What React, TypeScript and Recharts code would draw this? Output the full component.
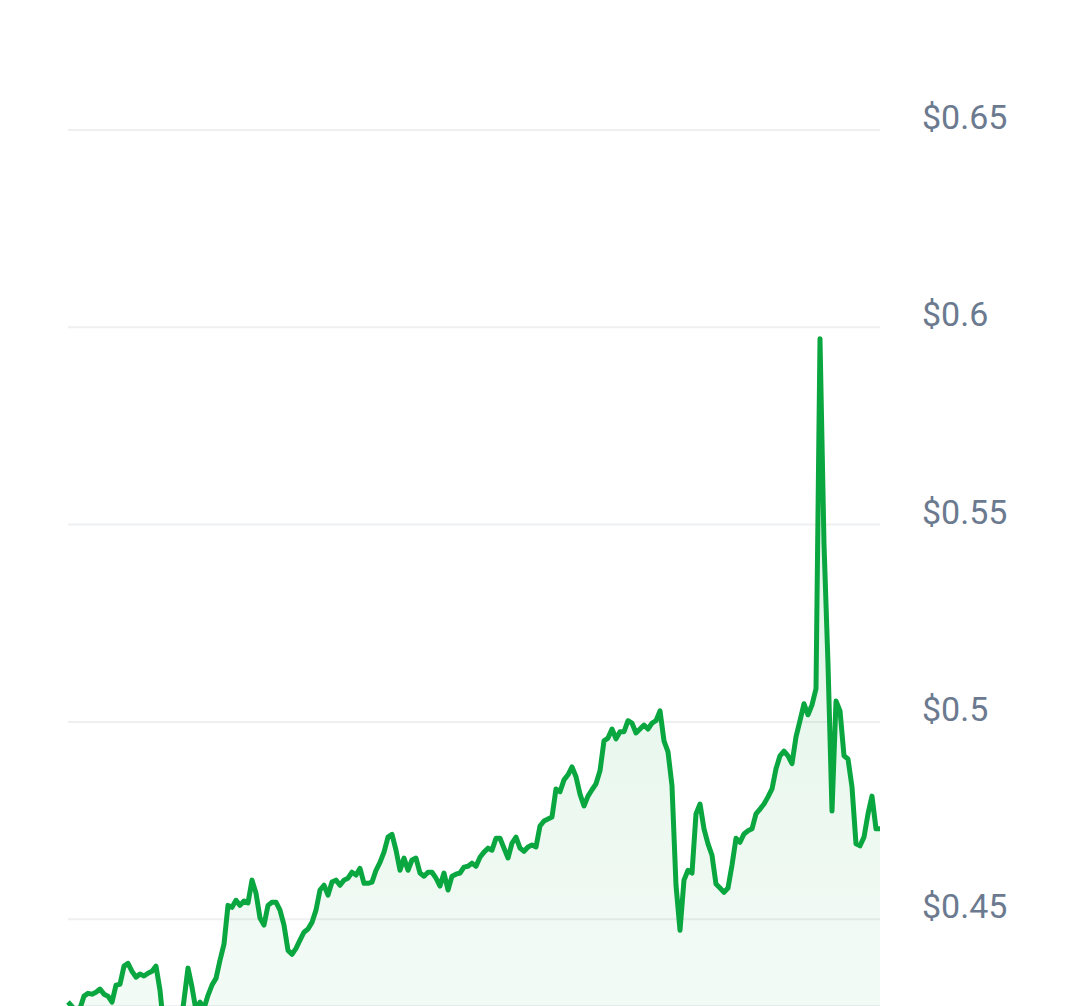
import { Area, AreaChart, CartesianGrid, XAxis, YAxis } from "recharts";

// price readings, evenly spaced over the period shown
const prices = [
  0.429, 0.4279, 0.4264, 0.4274, 0.4305, 0.4312, 0.431, 0.4315, 0.4323, 0.431,
  0.4305, 0.429, 0.4333, 0.4335, 0.4381, 0.4388, 0.4368, 0.4353, 0.4361, 0.4356,
  0.4363, 0.4368, 0.4381, 0.432, 0.4219, 0.4181, 0.4173, 0.4181, 0.4219, 0.4295,
  0.4376, 0.4328, 0.4269, 0.429, 0.4274, 0.4307, 0.4333, 0.435, 0.4396, 0.4437,
  0.4535, 0.453, 0.4548, 0.4535, 0.4546, 0.4541, 0.4599, 0.4566, 0.4503, 0.4485,
  0.4535, 0.4543, 0.4543, 0.4523, 0.4485, 0.4421, 0.4411, 0.4426, 0.4447, 0.4467,
  0.4475, 0.4492, 0.4523, 0.4574, 0.4586, 0.4561, 0.4594, 0.4599, 0.4586, 0.4599,
  0.4604, 0.4619, 0.4612, 0.4629, 0.4591, 0.4591, 0.4594, 0.4624, 0.4644, 0.467,
  0.4708, 0.4715, 0.4675, 0.4624, 0.4655, 0.4624, 0.465, 0.4655, 0.4617, 0.4609,
  0.4619, 0.4619, 0.4604, 0.4584, 0.4617, 0.4574, 0.4609, 0.4614, 0.4617, 0.4632,
  0.4634, 0.4642, 0.4634, 0.4657, 0.467, 0.468, 0.4675, 0.4705, 0.4705, 0.468,
  0.4655, 0.4693, 0.4708, 0.468, 0.4672, 0.4683, 0.4688, 0.4683, 0.4736, 0.4749,
  0.4754, 0.4759, 0.483, 0.4823, 0.4853, 0.4866, 0.4886, 0.4861, 0.4817, 0.4787,
  0.4812, 0.4828, 0.4843, 0.4876, 0.4952, 0.4959, 0.4982, 0.4957, 0.4975, 0.4975,
  0.5003, 0.4997, 0.4972, 0.4982, 0.4992, 0.4982, 0.4997, 0.5003, 0.5028, 0.4952,
  0.4924, 0.4838, 0.4586, 0.4472, 0.4599, 0.4624, 0.4617, 0.4767, 0.4792, 0.4729,
  0.4691, 0.4662, 0.4589, 0.4579, 0.4568, 0.4579, 0.4637, 0.4705, 0.4695, 0.4716,
  0.4724, 0.4729, 0.4767, 0.4779, 0.4792, 0.481, 0.483, 0.4881, 0.4914, 0.4926,
  0.4914, 0.4894, 0.4962, 0.5003, 0.5046, 0.5018, 0.5043, 0.5084, 0.5971, 0.5451,
  0.5147, 0.4774, 0.5053, 0.5028, 0.4914, 0.4906, 0.4835, 0.4691, 0.4686, 0.4708,
  0.4767, 0.4812, 0.4729, 0.4729,
];

const priceTicks = [0.45, 0.5, 0.55, 0.6, 0.65];

const data = prices.map((price, i) => ({ i, price }));

const PriceTick = (props: any) => {
  const { x, y, payload } = props;
  return (
    <text
      x={x}
      y={y}
      dy={-1}
      fill="#6b7a8f"
      fontSize={34}
      fontFamily="Roboto, sans-serif"
      textAnchor="start"
    >
      ${payload.value}
    </text>
  );
};

const App = () => {
  return (
    <div style={{ position: "absolute", top: 0, left: 0, background: "#fff" }}>
      <AreaChart
        width={1080}
        height={1006}
        data={data}
        margin={{ top: 130, right: 0, left: 68, bottom: 0 }}
      >
        <defs>
          <linearGradient id="priceFill" x1="0" y1="0" x2="0" y2="1">
            <stop offset="0%" stopColor="#0aa640" stopOpacity={0.24} />
            <stop offset="100%" stopColor="#0aa640" stopOpacity={0.07} />
          </linearGradient>
        </defs>
        <CartesianGrid vertical={false} stroke="#eeeff1" strokeWidth={2} />
        <XAxis dataKey="i" hide />
        <YAxis
          orientation="right"
          width={200}
          domain={[0.428, 0.65]}
          allowDataOverflow
          ticks={priceTicks}
          axisLine={false}
          tickLine={false}
          tickSize={0}
          tickMargin={42}
          tick={<PriceTick />}
        />
        <Area
          type="linear"
          dataKey="price"
          stroke="#0aa640"
          strokeWidth={5}
          strokeLinejoin="round"
          fill="url(#priceFill)"
          isAnimationActive={false}
        />
      </AreaChart>
    </div>
  );
};

export default App;
